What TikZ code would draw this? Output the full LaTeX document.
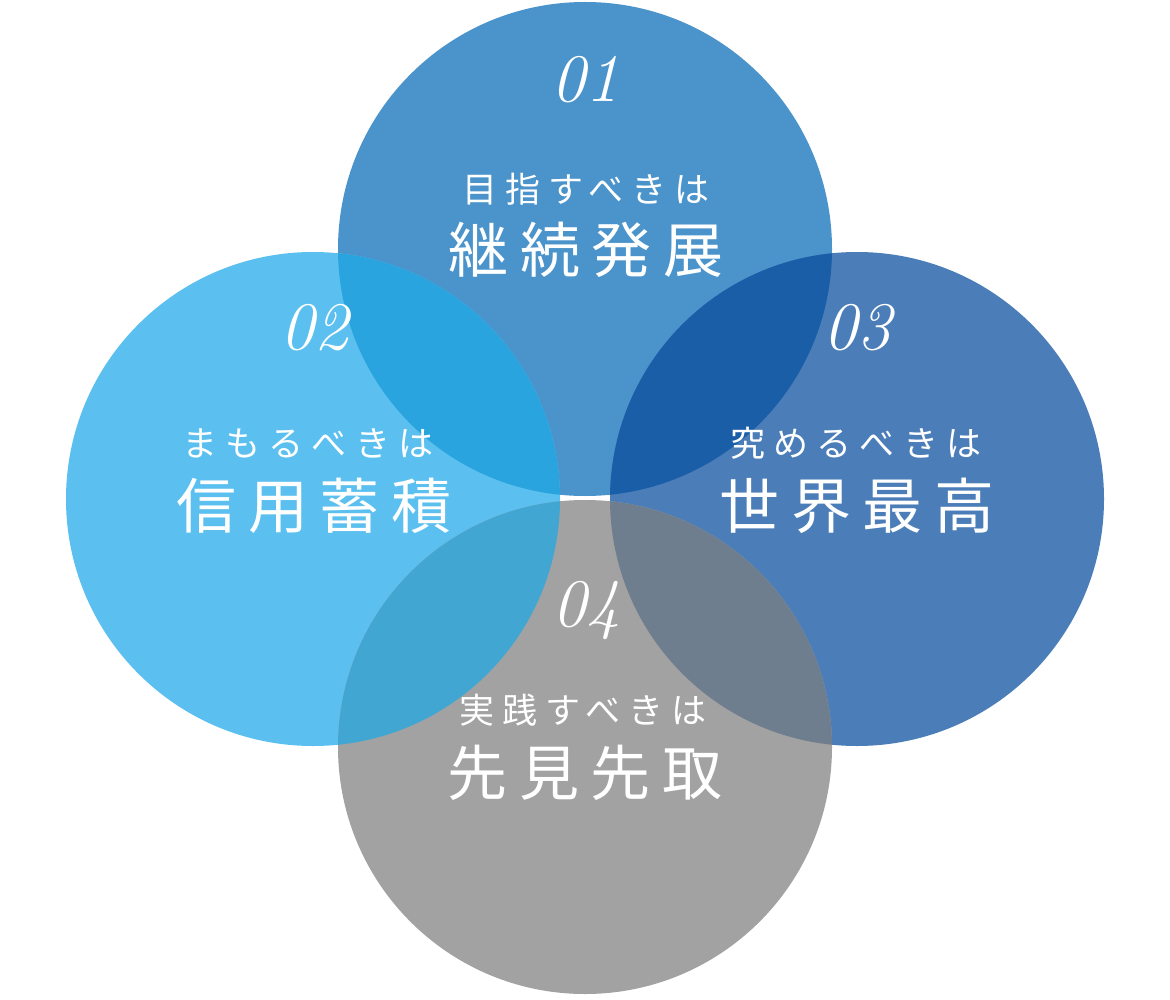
\documentclass[tikz,border=0pt]{standalone}
\usepackage{fontspec}
\newfontfamily\jpsmall[LetterSpace=23]{Noto Sans CJK JP}
\newfontfamily\jpbig[LetterSpace=19]{Noto Sans CJK JP}
\definecolor{cTop}{HTML}{4A93CB}
\definecolor{cLeft}{HTML}{5BC0EF}
\definecolor{cRight}{HTML}{4B7EB8}
\definecolor{cBottom}{HTML}{A2A2A2}
\definecolor{cLT}{HTML}{29A4DE}
\definecolor{cTR}{HTML}{1A5EA8}
\definecolor{cLB}{HTML}{42A6D3}
\definecolor{cRB}{HTML}{6E7E8F}
\tikzset{
  numlabel/.style={text=white, inner sep=0pt, font=\fontsize{68}{70}\selectfont\itshape},
  smalllabel/.style={text=white, inner sep=0pt, font=\jpsmall\fontsize{35}{38}\selectfont},
  biglabel/.style={text=white, inner sep=0pt, font=\jpbig\fontsize{60}{64}\selectfont},
}
\begin{document}
\begin{tikzpicture}[x=1pt,y=-1pt]
\useasboundingbox (0,0) rectangle (1170,1000);
\coordinate (c1) at (585,249);
\coordinate (c2) at (313,499);
\coordinate (c3) at (857,499);
\coordinate (c4) at (585,747);
\def\R{247pt}
\fill[cTop] (c1) circle[radius=\R];
\fill[cLeft] (c2) circle[radius=\R];
\fill[cRight] (c3) circle[radius=\R];
\fill[cBottom] (c4) circle[radius=\R];
\begin{scope}
  \clip (c2) circle[radius=\R];
  \fill[cLT] (c1) circle[radius=\R];
  \fill[cLB] (c4) circle[radius=\R];
\end{scope}
\begin{scope}
  \clip (c3) circle[radius=\R];
  \fill[cTR] (c1) circle[radius=\R];
  \fill[cRB] (c4) circle[radius=\R];
\end{scope}
% top
\node[numlabel] (n1) at (585,80) {01};
\node[smalllabel] (s1) at (586,189) {目指すべきは};
\node[biglabel] (b1) at (586,250) {継続発展};
% left
\node[numlabel] (n2) at (314,328) {02};
\node[smalllabel] (s2) at (308,443) {まもるべきは};
\node[biglabel] (b2) at (314,506) {信用蓄積};
% right
\node[numlabel] (n3) at (857,328) {03};
\node[smalllabel] (s3) at (856,443) {究めるべきは};
\node[biglabel] (b3) at (857,506) {世界最高};
% bottom
\node[numlabel] (n4) at (586,610) {04};
\node[smalllabel] (s4) at (583,710) {実践すべきは};
\node[biglabel] (b4) at (585,773) {先見先取};
\end{tikzpicture}
\end{document}
